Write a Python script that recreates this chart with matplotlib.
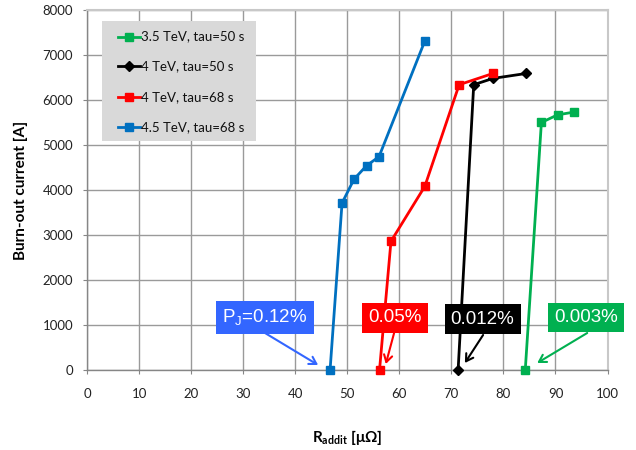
import matplotlib
matplotlib.use("Agg")
import matplotlib.pyplot as plt
from matplotlib.patches import Rectangle
from matplotlib.lines import Line2D

# ---- data ----
series_labels = ["3.5 TeV, tau=50 s", "4 TeV, tau=50 s", "4 TeV, tau=68 s", "4.5 TeV, tau=68 s"]
series_colors = ["#00b050", "#000000", "#ff0000", "#0070c0"]
series_markers = ["s", "D", "s", "s"]

green_x = [84.2, 87.3, 90.4, 93.5]
green_y = [0, 5500, 5670, 5730]
black_x = [71.3, 74.3, 78.0, 84.4]
black_y = [0, 6340, 6480, 6590]
red_x = [56.2, 58.4, 64.9, 71.5, 78.0]
red_y = [0, 2860, 4080, 6340, 6590]
blue_x = [46.7, 49.0, 51.3, 53.7, 56.1, 64.9]
blue_y = [0, 3710, 4240, 4540, 4740, 7310]

xs = [green_x, black_x, red_x, blue_x]
ys = [green_y, black_y, red_y, blue_y]

ann_texts = ["0.003%", "0.012%", "0.05%", r"P$_\mathregular{J}$=0.12%"]
ann_colors = ["#00b050", "#000000", "#ff0000", "#3366ff"]

x_ticks = list(range(0, 101, 10))
y_ticks = list(range(0, 8001, 1000))

plt.rcParams['font.family'] = ['Lato', 'DejaVu Sans']
plt.rcParams['mathtext.fontset'] = 'custom'
plt.rcParams['mathtext.rm'] = 'Liberation Sans'
plt.rcParams['mathtext.bf'] = 'Lato:bold'

fig = plt.figure(figsize=(6.36, 4.5), dpi=100)
W, H = 636, 450
ax = fig.add_axes([87 / W, 80 / H, 520.5 / W, 360 / H])

ax.set_xlim(0, 100)
ax.set_ylim(0, 8000)
ax.set_xticks(x_ticks)
ax.set_yticks(y_ticks)
ax.grid(True, color="#9a9a9a", linewidth=1.0)
ax.set_axisbelow(True)
ax.tick_params(axis='both', direction='out', length=3, width=0.8, color="#868686",
               labelsize=9.5, labelcolor="#222222")
ax.tick_params(axis='x', pad=10)
ax.tick_params(axis='y', pad=7)
for s in ["left", "bottom"]:
    ax.spines[s].set_color("#868686")
    ax.spines[s].set_linewidth(1.0)
for s in ["top", "right"]:
    ax.spines[s].set_color("#c8c8c8")
    ax.spines[s].set_linewidth(1.5)

for x, y, c, m in zip(xs, ys, series_colors, series_markers):
    ms = 5 if m == "D" else 6.3
    ax.plot(x, y, color=c, marker=m, markersize=ms, linewidth=2.0, clip_on=False, zorder=3)

ax.set_ylabel("Burn-out current [A]", fontsize=11, fontweight='bold')
ax.yaxis.set_label_coords(-0.113, 0.5)
ax.set_xlabel(r"$\mathbf{R_{addit}}$ [μΩ]", fontsize=11, fontweight='bold')
ax.xaxis.set_label_coords(0.5, -0.162)

# ---- legend (manual, Excel style) ----
ax.add_patch(Rectangle((0.0282, 0.636), 0.296, 0.333, transform=ax.transAxes,
                       facecolor="#d9d9d9", edgecolor="none", zorder=4))
leg_y = [0.926, 0.845, 0.759, 0.674]
for ly, lab, c, m in zip(leg_y, series_labels, series_colors, series_markers):
    ax.add_line(Line2D([0.0596, 0.1018], [ly, ly], transform=ax.transAxes, color=c,
                       linewidth=2.0, zorder=5))
    ms = 5 if m == "D" else 6.3
    ax.add_line(Line2D([0.0807], [ly], transform=ax.transAxes, color=c, marker=m,
                       markersize=ms, linestyle='none', zorder=5))
    ax.text(0.1037, ly, lab, transform=ax.transAxes, fontsize=9.5, va='center', ha='left',
            color="#111111", zorder=6)

# ---- annotations ----
ann_text_pos = [(95.8, 1167), (76.0, 1133), (59.2, 1156), (34.2, 1167)]
ann_tail = [(96.1, 822), (76.1, 778), (59.0, 822), (34.2, 822)]
ann_head = [(86.5, 156), (72.6, 156), (57.4, 133), (44.4, 111)]
for t, c, tp, tl, hd in zip(ann_texts, ann_colors, ann_text_pos, ann_tail, ann_head):
    ax.text(tp[0], tp[1], t, fontsize=13.5, family='Liberation Sans', color='white',
            ha='center', va='center', zorder=7,
            bbox=dict(boxstyle='square,pad=0.33', facecolor=c, edgecolor='none'))
    ax.annotate("", xy=hd, xytext=tl, xycoords='data', textcoords='data',
                arrowprops=dict(arrowstyle='->,head_length=0.5,head_width=0.3', color=c,
                                linewidth=1.5, shrinkA=0, shrinkB=0), zorder=7)

fig.savefig("out.png", dpi=100)
